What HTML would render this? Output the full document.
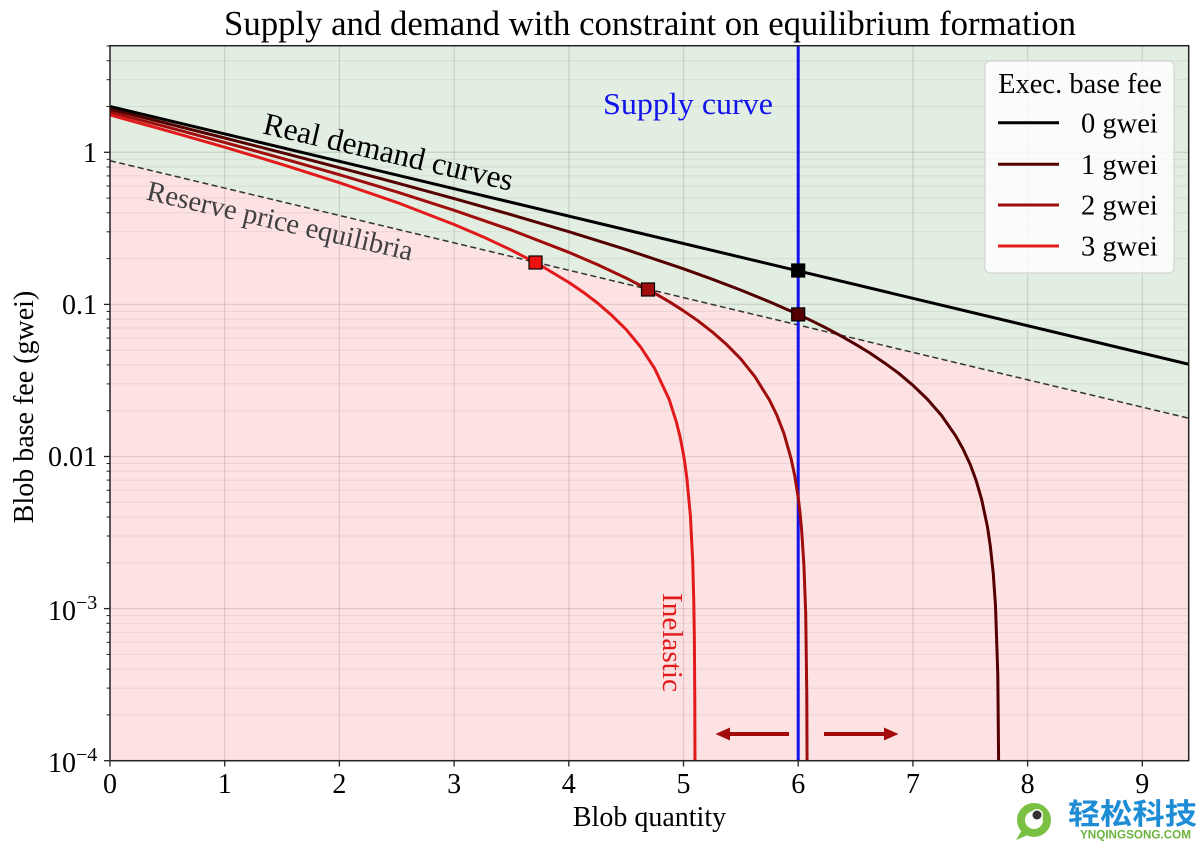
<!DOCTYPE html>
<html>
<head>
<meta charset="utf-8">
<style>
html,body{margin:0;padding:0;background:#fff;}
svg{display:block;}
text{font-family:"Liberation Serif","Times New Roman",serif;}
</style>
</head>
<body>
<svg width="1200" height="843" viewBox="0 0 1200 843" xmlns="http://www.w3.org/2000/svg">
<defs>
<clipPath id="pa"><rect x="110" y="45.7" width="1078.7" height="715"/></clipPath>
</defs>
<rect x="0" y="0" width="1200" height="843" fill="#fff"/>

<!-- title -->
<text x="650" y="35" font-size="34.5" text-anchor="middle" fill="#000" textLength="852" lengthAdjust="spacingAndGlyphs">Supply and demand with constraint on equilibrium formation</text>

<g clip-path="url(#pa)">
<!-- region fills -->
<polygon points="110,45.7 1188.7,45.7 1188.7,418.3 110,160.7" fill="#e2eee1"/>
<polygon points="110,160.7 1188.7,418.3 1188.7,760.7 110,760.7" fill="#fde2e3"/>

<!-- minor horizontal grid -->
<g stroke="#000" stroke-opacity="0.065" stroke-width="1">
<line x1="110" x2="1189" y1="714.9" y2="714.9"/><line x1="110" x2="1189" y1="688.1" y2="688.1"/><line x1="110" x2="1189" y1="669.1" y2="669.1"/><line x1="110" x2="1189" y1="654.4" y2="654.4"/><line x1="110" x2="1189" y1="642.3" y2="642.3"/><line x1="110" x2="1189" y1="632.2" y2="632.2"/><line x1="110" x2="1189" y1="623.3" y2="623.3"/><line x1="110" x2="1189" y1="615.6" y2="615.6"/>
<line x1="110" x2="1189" y1="562.8" y2="562.8"/><line x1="110" x2="1189" y1="536.0" y2="536.0"/><line x1="110" x2="1189" y1="517.0" y2="517.0"/><line x1="110" x2="1189" y1="502.3" y2="502.3"/><line x1="110" x2="1189" y1="490.2" y2="490.2"/><line x1="110" x2="1189" y1="480.1" y2="480.1"/><line x1="110" x2="1189" y1="471.2" y2="471.2"/><line x1="110" x2="1189" y1="463.5" y2="463.5"/>
<line x1="110" x2="1189" y1="410.7" y2="410.7"/><line x1="110" x2="1189" y1="383.9" y2="383.9"/><line x1="110" x2="1189" y1="364.9" y2="364.9"/><line x1="110" x2="1189" y1="350.2" y2="350.2"/><line x1="110" x2="1189" y1="338.1" y2="338.1"/><line x1="110" x2="1189" y1="328.0" y2="328.0"/><line x1="110" x2="1189" y1="319.1" y2="319.1"/><line x1="110" x2="1189" y1="311.4" y2="311.4"/>
<line x1="110" x2="1189" y1="258.6" y2="258.6"/><line x1="110" x2="1189" y1="231.8" y2="231.8"/><line x1="110" x2="1189" y1="212.8" y2="212.8"/><line x1="110" x2="1189" y1="198.1" y2="198.1"/><line x1="110" x2="1189" y1="186.0" y2="186.0"/><line x1="110" x2="1189" y1="175.9" y2="175.9"/><line x1="110" x2="1189" y1="167.0" y2="167.0"/><line x1="110" x2="1189" y1="159.3" y2="159.3"/>
<line x1="110" x2="1189" y1="106.5" y2="106.5"/><line x1="110" x2="1189" y1="79.7" y2="79.7"/><line x1="110" x2="1189" y1="60.7" y2="60.7"/><line x1="110" x2="1189" y1="46.0" y2="46.0"/>
</g>
<!-- major grid -->
<g stroke="#000" stroke-opacity="0.11" stroke-width="1.3">
<line x1="110" x2="1189" y1="152.3" y2="152.3"/><line x1="110" x2="1189" y1="304.4" y2="304.4"/><line x1="110" x2="1189" y1="456.5" y2="456.5"/><line x1="110" x2="1189" y1="608.6" y2="608.6"/>
<line y1="45" y2="761" x1="224.7" x2="224.7"/><line y1="45" y2="761" x1="339.4" x2="339.4"/><line y1="45" y2="761" x1="454.1" x2="454.1"/><line y1="45" y2="761" x1="568.8" x2="568.8"/><line y1="45" y2="761" x1="683.5" x2="683.5"/><line y1="45" y2="761" x1="798.2" x2="798.2"/><line y1="45" y2="761" x1="912.9" x2="912.9"/><line y1="45" y2="761" x1="1027.6" x2="1027.6"/><line y1="45" y2="761" x1="1142.3" x2="1142.3"/>
</g>

<!-- reserve price line -->
<line x1="110" y1="160.7" x2="1189" y2="418.3" stroke="#333" stroke-width="1.5" stroke-dasharray="6,3.5"/>

<!-- supply line -->
<line x1="798.2" y1="45" x2="798.2" y2="762" stroke="#1212ee" stroke-width="3"/>

<!-- demand curves -->
<path d="M110,115.0 L167.4,130.8 L224.7,147.2 L282.1,164.4 L339.4,182.7 L396.8,202.4 L454.1,224.5 L482.8,236.7 L511.5,250.2 L540.1,265.1 L568.8,282.4 L583.1,292.1 L597.5,303.0 L611.8,315.4 L626.2,329.6 L640.5,346.8 L654.8,368.7 L669.2,399.5 L676.3,421.8 L680.1,437.0 L683.5,454.5 L685.2,465.6 L686.9,478.6 L690.4,515.7 L692.7,560.9 L693.8,602.2 L694.4,642 L694.8,700 L695.0,770" fill="none" stroke="#e31a1c" stroke-width="3" stroke-linejoin="round"/>
<path d="M110,112.1 L167.4,127.1 L224.7,142.5 L282.1,158.3 L339.4,174.7 L396.8,191.9 L454.1,210.3 L511.5,230.1 L568.8,252.3 L597.5,264.6 L626.2,278.1 L640.5,285.5 L654.8,293.3 L669.2,301.7 L683.5,310.8 L697.8,320.7 L712.2,331.9 L726.5,344.4 L740.9,359.1 L755.2,377.1 L769.5,400.1 L776.7,414.8 L783.9,433.3 L791.0,458.3 L794.8,476.1 L798.2,497.2 L799.9,511.8 L801.6,529.7 L803.9,564.6 L805.7,612.9 L806.8,695.8 L807.1,770" fill="none" stroke="#a00d0d" stroke-width="3" stroke-linejoin="round"/>
<path d="M110,109.2 L167.4,123.6 L224.7,138.0 L282.1,152.7 L339.4,167.7 L396.8,182.9 L454.1,198.6 L511.5,214.8 L568.8,231.7 L626.2,249.6 L683.5,268.8 L712.2,279.2 L740.9,290.1 L769.5,301.8 L798.2,314.4 L812.5,321.2 L826.9,328.4 L841.2,336.1 L855.6,344.3 L869.9,353.0 L884.2,362.7 L898.6,373.2 L912.9,385.3 L927.2,399.0 L941.6,415.5 L955.9,436.2 L963.1,449.1 L970.3,464.6 L976.0,480.1 L981.7,499.7 L987.5,527.0 L990.3,546.1 L993.2,572.8 L995.5,605.9 L997.8,674.6 L998.7,770" fill="none" stroke="#550000" stroke-width="3" stroke-linejoin="round"/>
<line x1="110" y1="106.5" x2="1192" y2="365" stroke="#000" stroke-width="3"/>

<!-- markers -->
<rect x="529" y="256" width="13" height="13" fill="#ee1111" stroke="#000" stroke-width="1.2"/>
<rect x="641.5" y="283" width="13" height="13" fill="#a00d0d" stroke="#000" stroke-width="1.2"/>
<rect x="791.7" y="307.9" width="13" height="13" fill="#550000" stroke="#000" stroke-width="1.2"/>
<rect x="791.7" y="264" width="13" height="13" fill="#000" stroke="#000" stroke-width="1.2"/>

<!-- arrows -->
<line x1="789" y1="734" x2="727" y2="734" stroke="#a30b0b" stroke-width="4"/>
<polygon points="715.5,734 730,727.5 730,740.5" fill="#a30b0b"/>
<line x1="824" y1="734" x2="886" y2="734" stroke="#a30b0b" stroke-width="4"/>
<polygon points="898.5,734 884,727.5 884,740.5" fill="#a30b0b"/>

<!-- annotations -->
<text x="386" y="162" font-size="31.5" text-anchor="middle" fill="#000" transform="rotate(13 386 162)">Real demand curves</text>
<text x="278" y="230" font-size="28.5" text-anchor="middle" fill="#404040" transform="rotate(13 278 230)">Reserve price equilibria</text>
<text x="688" y="114" font-size="31" text-anchor="middle" fill="#1212ee" textLength="170" lengthAdjust="spacingAndGlyphs">Supply curve</text>
<text x="663" y="593" font-size="29" fill="#e31a1c" transform="rotate(90 663 593)" textLength="99" lengthAdjust="spacingAndGlyphs">Inelastic</text>
</g>

<!-- legend -->
<rect x="985" y="61" width="189" height="212" rx="5" ry="5" fill="#fff" fill-opacity="0.82" stroke="#d4d4d4" stroke-width="1.2"/>
<text x="1080" y="93" font-size="28.5" text-anchor="middle" fill="#000">Exec. base fee</text>
<line x1="998" y1="122.7" x2="1059" y2="122.7" stroke="#000" stroke-width="3"/>
<line x1="998" y1="164.3" x2="1059" y2="164.3" stroke="#550000" stroke-width="3"/>
<line x1="998" y1="205" x2="1059" y2="205" stroke="#a00d0d" stroke-width="3"/>
<line x1="998" y1="246" x2="1059" y2="246" stroke="#e31a1c" stroke-width="3"/>
<text x="1081" y="132.5" font-size="28.5" fill="#000">0 gwei</text>
<text x="1081" y="174" font-size="28.5" fill="#000">1 gwei</text>
<text x="1081" y="214.7" font-size="28.5" fill="#000">2 gwei</text>
<text x="1081" y="255.7" font-size="28.5" fill="#000">3 gwei</text>

<!-- spines -->
<rect x="110" y="45.7" width="1078.7" height="715" fill="none" stroke="#222" stroke-width="1.5"/>

<!-- y ticks -->
<g stroke="#222" stroke-width="1.3">
<line x1="104" x2="110" y1="152.3" y2="152.3"/><line x1="104" x2="110" y1="304.4" y2="304.4"/><line x1="104" x2="110" y1="456.5" y2="456.5"/><line x1="104" x2="110" y1="608.6" y2="608.6"/><line x1="104" x2="110" y1="760.7" y2="760.7"/>
</g>
<g stroke="#222" stroke-width="1">
<line x1="106.5" x2="110" y1="714.9" y2="714.9"/><line x1="106.5" x2="110" y1="688.1" y2="688.1"/><line x1="106.5" x2="110" y1="669.1" y2="669.1"/><line x1="106.5" x2="110" y1="654.4" y2="654.4"/><line x1="106.5" x2="110" y1="642.3" y2="642.3"/><line x1="106.5" x2="110" y1="632.2" y2="632.2"/><line x1="106.5" x2="110" y1="623.3" y2="623.3"/><line x1="106.5" x2="110" y1="615.6" y2="615.6"/>
<line x1="106.5" x2="110" y1="562.8" y2="562.8"/><line x1="106.5" x2="110" y1="536.0" y2="536.0"/><line x1="106.5" x2="110" y1="517.0" y2="517.0"/><line x1="106.5" x2="110" y1="502.3" y2="502.3"/><line x1="106.5" x2="110" y1="490.2" y2="490.2"/><line x1="106.5" x2="110" y1="480.1" y2="480.1"/><line x1="106.5" x2="110" y1="471.2" y2="471.2"/><line x1="106.5" x2="110" y1="463.5" y2="463.5"/>
<line x1="106.5" x2="110" y1="410.7" y2="410.7"/><line x1="106.5" x2="110" y1="383.9" y2="383.9"/><line x1="106.5" x2="110" y1="364.9" y2="364.9"/><line x1="106.5" x2="110" y1="350.2" y2="350.2"/><line x1="106.5" x2="110" y1="338.1" y2="338.1"/><line x1="106.5" x2="110" y1="328.0" y2="328.0"/><line x1="106.5" x2="110" y1="319.1" y2="319.1"/><line x1="106.5" x2="110" y1="311.4" y2="311.4"/>
<line x1="106.5" x2="110" y1="258.6" y2="258.6"/><line x1="106.5" x2="110" y1="231.8" y2="231.8"/><line x1="106.5" x2="110" y1="212.8" y2="212.8"/><line x1="106.5" x2="110" y1="198.1" y2="198.1"/><line x1="106.5" x2="110" y1="186.0" y2="186.0"/><line x1="106.5" x2="110" y1="175.9" y2="175.9"/><line x1="106.5" x2="110" y1="167.0" y2="167.0"/><line x1="106.5" x2="110" y1="159.3" y2="159.3"/>
<line x1="106.5" x2="110" y1="106.5" y2="106.5"/><line x1="106.5" x2="110" y1="79.7" y2="79.7"/><line x1="106.5" x2="110" y1="60.7" y2="60.7"/><line x1="106.5" x2="110" y1="46.0" y2="46.0"/>
</g>

<!-- y tick labels -->
<g font-size="28" fill="#000" text-anchor="end">
<text x="97" y="162">1</text>
<text x="97" y="314">0.1</text>
<text x="97" y="466">0.01</text>
</g>
<text x="48" y="620" font-size="28" fill="#000">10<tspan font-size="20" dy="-11">−3</tspan></text>
<text x="48" y="772" font-size="28" fill="#000">10<tspan font-size="20" dy="-11">−4</tspan></text>

<!-- x ticks -->
<g stroke="#222" stroke-width="1.3">
<line y1="760.7" y2="766.5" x1="110" x2="110"/><line y1="760.7" y2="766.5" x1="224.7" x2="224.7"/><line y1="760.7" y2="766.5" x1="339.4" x2="339.4"/><line y1="760.7" y2="766.5" x1="454.1" x2="454.1"/><line y1="760.7" y2="766.5" x1="568.8" x2="568.8"/><line y1="760.7" y2="766.5" x1="683.5" x2="683.5"/><line y1="760.7" y2="766.5" x1="798.2" x2="798.2"/><line y1="760.7" y2="766.5" x1="912.9" x2="912.9"/><line y1="760.7" y2="766.5" x1="1027.6" x2="1027.6"/><line y1="760.7" y2="766.5" x1="1142.3" x2="1142.3"/>
</g>
<g font-size="28" fill="#000" text-anchor="middle">
<text x="110" y="793">0</text><text x="224.7" y="793">1</text><text x="339.4" y="793">2</text><text x="454.1" y="793">3</text><text x="568.8" y="793">4</text><text x="683.5" y="793">5</text><text x="798.2" y="793">6</text><text x="912.9" y="793">7</text><text x="1027.6" y="793">8</text><text x="1142.3" y="793">9</text>
</g>

<!-- axis labels -->
<text x="649.5" y="826" font-size="28" text-anchor="middle" fill="#000">Blob quantity</text>
<text x="33" y="407" font-size="28" text-anchor="middle" fill="#000" transform="rotate(-90 33 407)">Blob base fee (gwei)</text>

<!-- watermark -->
<circle cx="1034" cy="820" r="13" fill="none" stroke="#7ac143" stroke-width="8"/>
<path d="M1022,830 L1016,840 L1028,835 Z" fill="#7ac143"/>
<circle cx="1037" cy="815" r="6" fill="#fff"/>
<circle cx="1037" cy="815" r="4.5" fill="#333"/>
<text x="1068" y="824" font-size="29" font-weight="bold" fill="#1f8dd6" style="font-family:'Noto Sans CJK SC','WenQuanYi Zen Hei',sans-serif" textLength="129" lengthAdjust="spacingAndGlyphs">轻松科技</text>
<text x="1080" y="838.5" font-size="12" font-weight="bold" fill="#6db33f" style="font-family:'Liberation Sans',sans-serif" textLength="111" lengthAdjust="spacingAndGlyphs">YNQINGSONG.COM</text>
</svg>
</body>
</html>
